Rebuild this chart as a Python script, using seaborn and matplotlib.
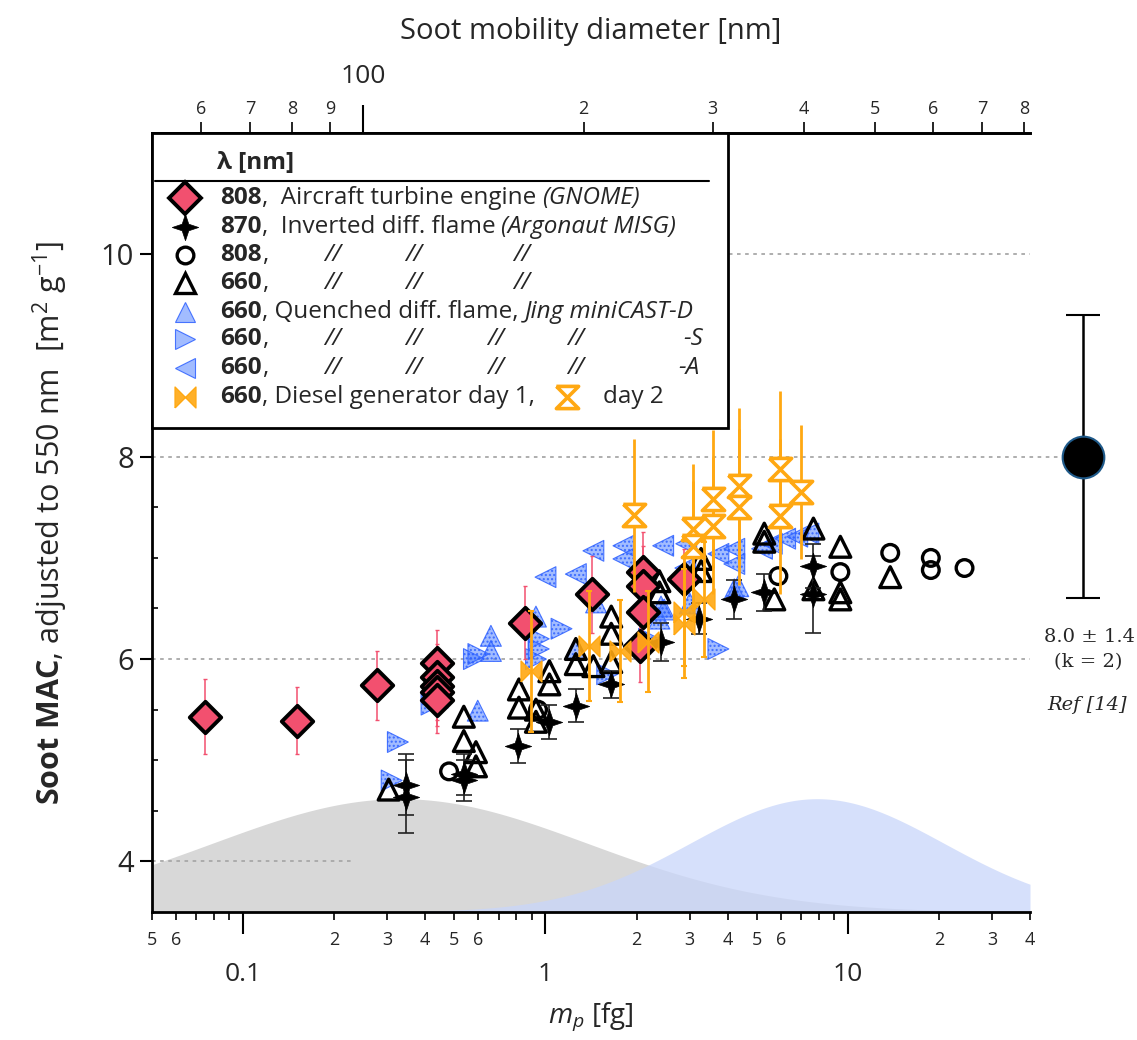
import numpy as np
import matplotlib
matplotlib.use("Agg")
import matplotlib.pyplot as plt
import seaborn as sns
from matplotlib.patches import Rectangle
from matplotlib.ticker import FixedLocator, FixedFormatter, MultipleLocator, NullFormatter

# ---------------- measurements ----------------
# Aircraft turbine engine (GNOME), 808 nm
gnome_m = [0.075, 0.151, 0.277, 0.437, 0.437, 0.437, 0.437, 0.437, 0.855, 1.42, 2.10, 2.10, 2.10, 2.05, 2.88]
gnome_mac = [5.43, 5.39, 5.74, 5.96, 5.82, 5.73, 5.67, 5.60, 6.36, 6.64, 6.86, 6.72, 6.47, 6.13, 6.79]
gnome_err = [0.37, 0.33, 0.34, 0.33, 0.33, 0.33, 0.33, 0.33, 0.36, 0.38, 0.40, 0.40, 0.40, 0.36, 0.30]

# Inverted diffusion flame (Argonaut MISG), 870 nm
misg870_m = [0.345, 0.345, 0.537, 0.537, 0.81, 1.03, 1.26, 1.65, 2.41, 3.22, 4.21, 5.29, 7.69, 7.69]
misg870_mac = [4.76, 4.64, 4.86, 4.80, 5.14, 5.38, 5.54, 5.75, 6.17, 6.40, 6.59, 6.66, 6.92, 6.64]
misg870_err = [0.30, 0.36, 0.20, 0.20, 0.17, 0.17, 0.16, 0.13, 0.19, 0.15, 0.19, 0.18, 0.22, 0.38]

# Argonaut MISG, 808 nm
misg808_m = [0.48, 0.945, 5.89, 9.44, 13.8, 18.8, 18.8, 24.3]
misg808_mac = [4.89, 5.50, 6.82, 6.86, 7.05, 7.00, 6.88, 6.90]

# Argonaut MISG, 660 nm
misg660_m = [0.303, 0.537, 0.537, 0.589, 0.589, 0.817, 0.817, 0.93, 0.93, 1.03, 1.03, 1.26, 1.26,
             1.44, 1.65, 1.65, 1.65, 2.38, 2.38, 3.27, 3.27, 5.29, 5.29, 5.71, 7.69, 7.69,
             9.44, 9.44, 9.44, 13.8]
misg660_mac = [4.71, 5.43, 5.19, 5.08, 4.94, 5.70, 5.52, 5.50, 5.38, 5.88, 5.75, 6.10, 5.95,
               5.93, 6.42, 6.25, 5.97, 6.77, 6.66, 6.99, 6.87, 7.24, 7.16, 6.59, 7.29, 6.69,
               7.11, 6.66, 6.59, 6.81]

# Quenched diffusion flame, Jing miniCAST, 660 nm
cast_d_m = [0.44, 0.597, 0.66, 0.66, 0.93, 1.26, 1.47, 2.38, 2.41, 2.47, 3.0, 4.21, 4.34]
cast_d_mac = [5.62, 5.49, 6.23, 6.08, 6.42, 6.10, 6.56, 6.40, 6.52, 6.49, 6.55, 6.69, 6.72]
cast_s_m = [0.31, 0.325, 0.42, 0.58, 0.60, 0.93, 0.95, 0.95, 1.13, 1.6, 2.2, 3.73]
cast_s_mac = [4.80, 5.18, 5.55, 6.00, 6.05, 6.00, 6.20, 6.10, 6.30, 5.85, 6.20, 6.10]
cast_a_m = [1.0, 1.26, 1.44, 1.81, 1.81, 2.45, 2.9, 2.92, 3.73, 4.21, 4.21, 5.2, 5.6, 6.2, 6.8, 7.4]
cast_a_mac = [6.81, 6.84, 7.07, 7.12, 6.99, 7.12, 6.90, 7.14, 7.04, 7.09, 6.94, 7.09, 7.14, 7.19, 7.21, 7.24]

# Diesel generator, 660 nm
diesel1_m = [0.895, 1.39, 1.77, 2.18, 2.86, 2.86, 3.35]
diesel1_mac = [5.88, 6.13, 6.08, 6.17, 6.47, 6.35, 6.59]
diesel1_err = [0.60, 0.54, 0.50, 0.50, 0.54, 0.54, 0.57]
diesel2_m = [1.96, 3.08, 3.08, 3.59, 3.59, 4.37, 4.37, 5.98, 5.98, 6.97]
diesel2_mac = [7.42, 7.29, 7.12, 7.58, 7.32, 7.71, 7.50, 7.88, 7.41, 7.65]
diesel2_err = [0.76, 0.64, 0.64, 0.68, 0.68, 0.77, 0.77, 0.77, 0.77, 0.66]

# Reference value
ref_mac = 8.0
ref_unc = 1.4

# Log-normal mass distributions shown along the bottom
dist_base = 3.5
gray_center, gray_sigma, gray_peak = 0.33, 0.62, 1.12
blue_center, blue_sigma, blue_peak = 7.9, 0.42, 1.12

# Mass-mobility relation used for the top axis
d_ref_nm, m_ref_fg, d_exponent = 100.0, 0.25, 2.42

# Tick labels
x_major = [0.1, 1, 10]
x_major_labels = ["0.1", "1", "10"]
x_minor = [0.05, 0.06, 0.07, 0.08, 0.09, 0.2, 0.3, 0.4, 0.5, 0.6, 0.7, 0.8, 0.9,
           2, 3, 4, 5, 6, 7, 8, 9, 20, 30, 40]
x_minor_labels = ["5", "6", "", "", "", "2", "3", "4", "5", "6", "", "", "",
                  "2", "3", "4", "5", "6", "", "", "", "2", "3", "4"]
d_major = [100]
d_minor = [60, 70, 80, 90, 200, 300, 400, 500, 600, 700, 800]
d_minor_labels = ["6", "7", "8", "9", "2", "3", "4", "5", "6", "7", "8"]
y_major = [4, 6, 8, 10]

# ---------------- style ----------------
sns.set_theme(style="ticks")
FONT = "Open Sans"
plt.rcParams["font.family"] = [FONT, "DejaVu Sans"]
plt.rcParams["mathtext.fontset"] = "custom"
plt.rcParams["mathtext.rm"] = FONT
plt.rcParams["mathtext.it"] = FONT + ":italic"
plt.rcParams["mathtext.bf"] = FONT + ":bold"
plt.rcParams["hatch.linewidth"] = 1.0

RED = "#f2506f"
ORANGE = "#ffa812"
BLUE_FACE = (0.28, 0.48, 1.0, 0.50)
BLUE_EDGE = (0.18, 0.38, 1.0, 0.85)
GRID = "#a8a8a8"

STAR4 = [(0, 1), (0.25, 0.25), (1, 0), (0.25, -0.25), (0, -1), (-0.25, -0.25), (-1, 0), (-0.25, 0.25), (0, 1)]
BOWTIE = [(-1, -1), (-1, 1), (0, 0), (1, 1), (1, -1), (0, 0), (-1, -1)]
HOURGLASS = [(-1, 1), (1, 1), (0, 0), (1, -1), (-1, -1), (0, 0), (-1, 1)]

W, H = 1137, 1040
fig = plt.figure(figsize=(W / 100, H / 100), dpi=100)
ax = fig.add_axes([152 / W, 1 - 912 / H, 878 / W, 779 / H])
ax.set_xscale("log")
ax.set_xlim(0.05, 40)
ax.set_ylim(3.5, 11.2)

# distributions
xs = np.logspace(np.log10(0.05), np.log10(40), 500)


def lognormal(center, sigma, peak):
    return dist_base + peak * np.exp(-0.5 * ((np.log10(xs) - np.log10(center)) / sigma) ** 2)


ax.fill_between(xs, dist_base, lognormal(gray_center, gray_sigma, gray_peak),
                color="#d8d8d8", lw=0, zorder=1)
ax.fill_between(xs, dist_base, lognormal(blue_center, blue_sigma, blue_peak),
                color="#c9d6fa", alpha=0.75, lw=0, zorder=1.2)

# dotted guide lines
for yv in (6, 10):
    ax.axhline(yv, color=GRID, lw=1.3, ls=(0, (2, 2.5)), zorder=1.5)
ax.axhline(8, xmin=0, xmax=1.032, color=GRID, lw=1.3, ls=(0, (2, 2.5)), zorder=1.5, clip_on=False)
ax.axhline(4, xmin=0, xmax=0.231, color=GRID, lw=1.3, ls=(0, (2, 2.5)), zorder=1.5)


def scatter(x, y, marker, size, face, edge, lw, z, hatch=None):
    kw = dict(x=x, y=y, marker=marker, s=size ** 2, color=edge, edgecolor=edge,
              linewidth=lw, zorder=z, legend=False, ax=ax)
    if hatch:
        kw["hatch"] = hatch
    sns.scatterplot(**kw)
    coll = ax.collections[-1]
    coll.set_facecolor(face)
    coll.set_edgecolor(edge)
    coll.set_zorder(z)
    return coll


# Jing miniCAST
scatter(cast_d_m, cast_d_mac, "^", 15, BLUE_FACE, BLUE_EDGE, 0.8, 3, hatch="....")
scatter(cast_s_m, cast_s_mac, ">", 15, BLUE_FACE, BLUE_EDGE, 0.8, 3, hatch="....")
scatter(cast_a_m, cast_a_mac, "<", 15, BLUE_FACE, BLUE_EDGE, 0.8, 3, hatch="....")

# Argonaut MISG
scatter(misg660_m, misg660_mac, "^", 15, "none", "black", 2.4, 4)
scatter(misg808_m, misg808_mac, "o", 12, "none", "black", 2.4, 4)
ax.errorbar(misg870_m, misg870_mac, yerr=misg870_err, fmt="none", ecolor="#222222",
            elinewidth=1.2, capsize=6, capthick=1.2, zorder=4.5)
scatter(misg870_m, misg870_mac, STAR4, 19, "black", "black", 0.5, 5)

# GNOME
ax.errorbar(gnome_m, gnome_mac, yerr=gnome_err, fmt="none", ecolor=RED,
            elinewidth=1.1, capsize=1.5, capthick=1.0, zorder=5.5)
scatter(gnome_m, gnome_mac, "D", 16, RED, "black", 2.8, 6)

# Diesel generator
ax.errorbar(diesel1_m, diesel1_mac, yerr=diesel1_err, fmt="none", ecolor=ORANGE,
            elinewidth=2.0, capsize=2, capthick=1.5, zorder=6.5)
scatter(diesel1_m, diesel1_mac, BOWTIE, 15, (1.0, 0.66, 0.07, 0.9), ORANGE, 1.0, 7)
ax.errorbar(diesel2_m, diesel2_mac, yerr=diesel2_err, fmt="none", ecolor=ORANGE,
            elinewidth=2.0, capsize=0, zorder=6.5)
scatter(diesel2_m, diesel2_mac, HOURGLASS, 16, "white", ORANGE, 2.6, 7)

# ---------------- axes ----------------
for side in ("left", "bottom", "top"):
    ax.spines[side].set_linewidth(2)
    ax.spines[side].set_color("black")
ax.spines["right"].set_visible(False)

ax.xaxis.set_major_locator(FixedLocator(x_major))
ax.xaxis.set_major_formatter(FixedFormatter(x_major_labels))
ax.xaxis.set_minor_locator(FixedLocator(x_minor))
ax.xaxis.set_minor_formatter(FixedFormatter(x_minor_labels))
ax.tick_params(axis="x", which="major", direction="out", length=16, width=1.5,
               pad=20, labelsize=19, bottom=True, top=False, color="black")
ax.tick_params(axis="x", which="minor", direction="out", length=6, width=1.2,
               pad=8, labelsize=13, bottom=True, top=False, color="black")

ax.yaxis.set_major_locator(FixedLocator(y_major))
ax.yaxis.set_minor_locator(MultipleLocator(0.5))
ax.yaxis.set_minor_formatter(NullFormatter())
ax.tick_params(axis="y", which="major", direction="out", length=9, width=1.5,
               pad=4, labelsize=21, left=True, right=False, color="black")
ax.tick_params(axis="y", which="minor", direction="in", length=4, width=1.2,
               left=True, right=False, color="black")


def mass_to_diam(m):
    m = np.clip(np.asarray(m, dtype=float), 1e-6, None)
    return d_ref_nm * (m / m_ref_fg) ** (1.0 / d_exponent)


def diam_to_mass(d):
    d = np.clip(np.asarray(d, dtype=float), 1e-6, None)
    return m_ref_fg * (d / d_ref_nm) ** d_exponent


sec = ax.secondary_xaxis("top", functions=(mass_to_diam, diam_to_mass))
sec.spines["top"].set_linewidth(2)
sec.xaxis.set_major_locator(FixedLocator(d_major))
sec.xaxis.set_major_formatter(FixedFormatter(["100"]))
sec.xaxis.set_minor_locator(FixedLocator(d_minor))
sec.xaxis.set_minor_formatter(FixedFormatter(d_minor_labels))
sec.tick_params(axis="x", which="major", direction="out", length=20, width=1.5,
                pad=12, labelsize=19, color="black")
sec.tick_params(axis="x", which="minor", direction="out", length=8, width=1.2,
                pad=3, labelsize=13, color="black")
sec.set_xlabel("Soot mobility diameter [nm]", fontsize=21, labelpad=18)

ax.set_xlabel(r"$m_p$ [fg]", fontsize=20, labelpad=10)
ax.set_ylabel(r"$\mathbf{Soot\ MAC}$, adjusted to 550 nm  [m$^{2}$ g$^{-1}$]",
              fontsize=22, labelpad=22)

# ---------------- legend ----------------


def fx(px):
    return (px - 152) / 878


def fy(py):
    return (912 - py) / 779


T = ax.transAxes
LEG_FS = 17.5
ax.add_patch(Rectangle((0, fy(428)), fx(728), 1 - fy(428), transform=T, facecolor="white",
                       edgecolor="black", lw=2, zorder=20, clip_on=False))
ax.text(fx(217), fy(163), "λ [nm]", transform=T, fontsize=LEG_FS, fontweight="bold",
        va="center", ha="left", zorder=21)
ax.plot([fx(155), fx(709)], [fy(181), fy(181)], transform=T, color="black", lw=1.5,
        zorder=21, clip_on=False)

rows = [198, 227, 255, 283, 312, 339, 368, 397]
mk = fx(185)
leg_markers = [
    dict(marker="D", ms=16, mfc=RED, mec="black", mew=2.8),
    dict(marker=STAR4, ms=19, mfc="black", mec="black", mew=0.5),
    dict(marker="o", ms=12, mfc="none", mec="black", mew=2.4),
    dict(marker="^", ms=15, mfc="none", mec="black", mew=2.4),
    dict(marker="^", ms=15, mfc=BLUE_FACE, mec=BLUE_EDGE, mew=0.8),
    dict(marker=">", ms=15, mfc=BLUE_FACE, mec=BLUE_EDGE, mew=0.8),
    dict(marker="<", ms=15, mfc=BLUE_FACE, mec=BLUE_EDGE, mew=0.8),
    dict(marker=BOWTIE, ms=15, mfc=(1.0, 0.66, 0.07, 0.9), mec=ORANGE, mew=1.0),
]
for r, st in zip(rows, leg_markers):
    ax.plot([mk], [fy(r)], transform=T, ls="none", zorder=22, clip_on=False, **st)
ax.plot([fx(567)], [fy(397)], transform=T, ls="none", zorder=22, clip_on=False,
        marker=HOURGLASS, ms=16, mfc="white", mec=ORANGE, mew=2.6)

renderer = fig.canvas.get_renderer()


def text_run(px, py, pieces):
    """Write consecutive text pieces on one legend row, each after the previous one."""
    x_disp = ax.transAxes.transform((fx(px), 0))[0]
    for s, kw in pieces:
        xa = ax.transAxes.inverted().transform((x_disp, 0))[0]
        t = ax.text(xa, fy(py), s, transform=T, fontsize=LEG_FS, va="center", ha="left",
                    zorder=22, **kw)
        x_disp = t.get_window_extent(renderer).x1


B = dict(fontweight="bold")
N = dict()
I = dict(style="italic")
text_run(220, rows[0], [("808", B), (",  Aircraft turbine engine ", N), ("(GNOME)", I)])
text_run(220, rows[1], [("870", B), (",  Inverted diff. flame ", N), ("(Argonaut MISG)", I)])
text_run(220, rows[2], [("808", B), (",", N)])
text_run(220, rows[3], [("660", B), (",", N)])
text_run(220, rows[4], [("660", B), (", Quenched diff. flame, ", N), ("Jing miniCAST-D", I)])
text_run(220, rows[5], [("660", B), (",", N)])
text_run(220, rows[6], [("660", B), (",", N)])
text_run(220, rows[7], [("660", B), (", Diesel generator day 1,", N)])

for r in rows[2:4]:
    for px in (324, 405, 513):
        ax.text(fx(px), fy(r), "//", transform=T, fontsize=LEG_FS, style="italic",
                va="center", ha="left", zorder=22)
for r in rows[5:7]:
    for px in (324, 405, 487, 567):
        ax.text(fx(px), fy(r), "//", transform=T, fontsize=LEG_FS, style="italic",
                va="center", ha="left", zorder=22)
ax.text(fx(683), fy(rows[5]), "-S", transform=T, fontsize=LEG_FS, style="italic",
        va="center", ha="left", zorder=22)
ax.text(fx(678), fy(rows[6]), "-A", transform=T, fontsize=LEG_FS, style="italic",
        va="center", ha="left", zorder=22)
ax.text(fx(603), fy(rows[7]), "day 2", transform=T, fontsize=LEG_FS, va="center",
        ha="left", zorder=22)

# ---------------- reference value ----------------
ax_ref = fig.add_axes([1060 / W, 1 - 912 / H, 46 / W, 779 / H])
ax_ref.set_ylim(ax.get_ylim())
ax_ref.set_xlim(-1, 1)
ax_ref.axis("off")
ax_ref.errorbar([0], [ref_mac], yerr=[ref_unc], fmt="o", color="black", ms=30,
                mfc="black", mec="#1f5a8a", mew=1.5, elinewidth=1.8, capsize=12,
                capthick=1.8)
serif = ["DejaVu Serif"]
fig.text(1090 / W, 1 - 637 / H, f"{ref_mac:.1f} ± {ref_unc:.1f}", ha="center",
         va="center", fontsize=14, family=serif)
fig.text(1088 / W, 1 - 662 / H, "(k = 2)", ha="center", va="center", fontsize=14,
         family=serif)
fig.text(1087 / W, 1 - 705 / H, "Ref [14]", ha="center", va="center", fontsize=14,
         family=serif, style="italic")

fig.savefig("out.png", dpi=100)
